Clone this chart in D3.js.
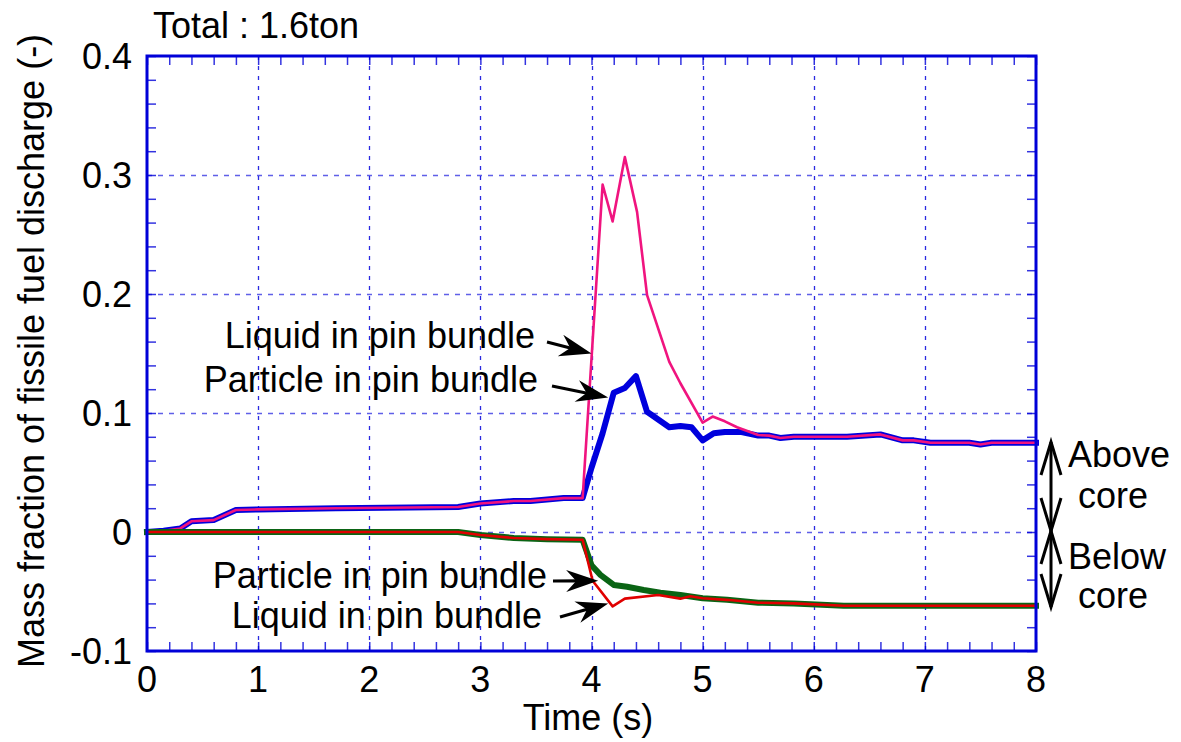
<!DOCTYPE html>
<html>
<head>
<meta charset="utf-8">
<script src="https://cdn.jsdelivr.net/npm/d3@7"></script>
<style>
  body { margin: 0; background: #fff; }
  text { font-family: "Liberation Sans", Arial, sans-serif; fill: #000; }
</style>
</head>
<body>
<svg id="chart" width="1181" height="742"></svg>
<script>
// Fissile fuel discharge above / below the core (fraction of 1.6 ton)
const xTickValues = [0, 1, 2, 3, 4, 5, 6, 7, 8];
const xTickLabels = ["0", "1", "2", "3", "4", "5", "6", "7", "8"];
const yTickValues = [-0.1, 0, 0.1, 0.2, 0.3, 0.4];
const yTickLabels = ["-0.1", "0", "0.1", "0.2", "0.3", "0.4"];

// Above core - particle in pin bundle
const aboveParticleTime = [0, 0.15, 0.3, 0.4, 0.6, 0.8, 1.0, 1.7, 2.8, 3.0, 3.3, 3.45, 3.75, 3.92, 4.0, 4.1, 4.2, 4.3, 4.4, 4.5, 4.7, 4.8, 4.9, 5.0, 5.1, 5.2, 5.35, 5.5, 5.6, 5.7, 5.82, 6.3, 6.6, 6.8, 6.9, 7.05, 7.4, 7.5, 7.6, 8.0];
const aboveParticleValue = [0, 0.001, 0.003, 0.009, 0.010, 0.0185, 0.019, 0.020, 0.021, 0.024, 0.026, 0.026, 0.0285, 0.0285, 0.054, 0.083, 0.117, 0.121, 0.131, 0.101, 0.088, 0.089, 0.088, 0.077, 0.083, 0.084, 0.084, 0.081, 0.081, 0.079, 0.080, 0.080, 0.082, 0.077, 0.077, 0.075, 0.075, 0.0735, 0.075, 0.075];

// Above core - liquid in pin bundle
const aboveLiquidTime = [0, 0.15, 0.3, 0.4, 0.6, 0.8, 1.0, 1.7, 2.8, 3.0, 3.3, 3.45, 3.75, 3.92, 4.1, 4.19, 4.3, 4.41, 4.5, 4.7, 4.8, 5.0, 5.09, 5.2, 5.31, 5.5, 5.6, 5.7, 5.82, 6.3, 6.6, 6.8, 6.9, 7.05, 7.4, 7.5, 7.6, 8.0];
const aboveLiquidValue = [0, 0.001, 0.003, 0.009, 0.010, 0.0185, 0.019, 0.020, 0.021, 0.024, 0.026, 0.026, 0.0285, 0.0285, 0.292, 0.261, 0.315, 0.269, 0.199, 0.143, 0.125, 0.092, 0.097, 0.093, 0.088, 0.0815, 0.081, 0.079, 0.080, 0.080, 0.082, 0.077, 0.077, 0.075, 0.075, 0.0735, 0.075, 0.075];

// Below core - particle in pin bundle (negative = downward discharge)
const belowParticleTime = [0, 2.8, 3.0, 3.3, 3.6, 3.92, 4.0, 4.08, 4.2, 4.32, 4.47, 4.62, 4.8, 5.0, 5.22, 5.5, 5.82, 6.27, 8.0];
const belowParticleValue = [0, 0, -0.0025, -0.005, -0.006, -0.0065, -0.028, -0.036, -0.0445, -0.046, -0.0487, -0.051, -0.053, -0.0557, -0.057, -0.0594, -0.060, -0.062, -0.062];

// Below core - liquid in pin bundle
const belowLiquidTime = [0, 2.8, 3.0, 3.3, 3.6, 3.92, 4.01, 4.19, 4.3, 4.6, 4.8, 4.89, 5.0, 5.22, 5.5, 5.82, 6.27, 8.0];
const belowLiquidValue = [0, 0, -0.0025, -0.005, -0.006, -0.0065, -0.041, -0.0625, -0.056, -0.053, -0.056, -0.054, -0.0557, -0.057, -0.0594, -0.060, -0.062, -0.062];

const svg = d3.select("#chart");
const FONT = 36;
const margin = { left: 147, right: 1036, top: 56, bottom: 651 };

const x = d3.scaleLinear().domain([0, 8]).range([margin.left, margin.right]);
const y = d3.scaleLinear().domain([-0.1, 0.4]).range([margin.bottom, margin.top]);

const frameColor = "#0000d8";
const gridColor = "#2a2ae0";

// grid
const grid = svg.append("g");
grid.selectAll("line.vg").data(xTickValues.slice(1, -1)).join("line")
  .attr("x1", d => Math.round(x(d)) + 0.5).attr("x2", d => Math.round(x(d)) + 0.5)
  .attr("y1", margin.top).attr("y2", margin.bottom)
  .attr("stroke", gridColor).attr("stroke-width", 1.3).attr("stroke-dasharray", "4,6");
grid.selectAll("line.hg").data(yTickValues.slice(1, -1)).join("line")
  .attr("y1", d => Math.round(y(d)) + 0.5).attr("y2", d => Math.round(y(d)) + 0.5)
  .attr("x1", margin.left).attr("x2", margin.right)
  .attr("stroke", gridColor).attr("stroke-opacity", 0.75).attr("stroke-width", 1.3).attr("stroke-dasharray", "5,6");

// minor + major ticks on all four sides, pointing inward
const tickLen = 9;
const xMinor = d3.range(0, 8.001, 0.2);
const yMinor = d3.range(-0.1, 0.4001, 0.02);
const bottomAxis = d3.axisBottom(x).tickValues(xMinor).tickSize(-tickLen).tickFormat("");
const topAxis = d3.axisTop(x).tickValues(xMinor).tickSize(-tickLen).tickFormat("");
const leftAxis = d3.axisLeft(y).tickValues(yMinor).tickSize(-tickLen).tickFormat("");
const rightAxis = d3.axisRight(y).tickValues(yMinor).tickSize(-tickLen).tickFormat("");
function styleAxis(g) {
  g.select(".domain").remove();
  g.selectAll(".tick line").attr("stroke", frameColor).attr("stroke-width", 1.5).attr("stroke-opacity", 0.8);
}
svg.append("g").attr("transform", `translate(0,${margin.bottom})`).call(bottomAxis).call(styleAxis);
svg.append("g").attr("transform", `translate(0,${margin.top})`).call(topAxis).call(styleAxis);
svg.append("g").attr("transform", `translate(${margin.left},0)`).call(leftAxis).call(styleAxis);
svg.append("g").attr("transform", `translate(${margin.right},0)`).call(rightAxis).call(styleAxis);

// series lines
const line = d3.line().x(d => x(d[0])).y(d => y(d[1]));
function zip(ts, vs) { return ts.map((t, i) => [t, vs[i]]); }
const series = [
  { t: aboveParticleTime, v: aboveParticleValue, color: "#0000dd", width: 6 },
  { t: aboveLiquidTime, v: aboveLiquidValue, color: "#f0147f", width: 2.6 },
  { t: belowParticleTime, v: belowParticleValue, color: "#0a6414", width: 6 },
  { t: belowLiquidTime, v: belowLiquidValue, color: "#e00000", width: 2.6 }
];
svg.append("g").selectAll("path").data(series).join("path")
  .attr("d", s => line(zip(s.t, s.v)))
  .attr("fill", "none")
  .attr("stroke", s => s.color)
  .attr("stroke-width", s => s.width)
  .attr("stroke-linejoin", "round")
  .attr("stroke-linecap", "square");

// frame
svg.append("rect")
  .attr("x", margin.left).attr("y", margin.top)
  .attr("width", margin.right - margin.left).attr("height", margin.bottom - margin.top)
  .attr("fill", "none").attr("stroke", frameColor).attr("stroke-width", 3);

// tick labels
svg.append("g").selectAll("text").data(xTickValues).join("text")
  .attr("x", d => x(d)).attr("y", 692)
  .attr("text-anchor", "middle").attr("font-size", FONT)
  .text((d, i) => xTickLabels[i]);
svg.append("g").selectAll("text").data(yTickValues).join("text")
  .attr("x", 132).attr("y", d => y(d) + 13)
  .attr("text-anchor", "end").attr("font-size", FONT)
  .text((d, i) => yTickLabels[i]);

// axis titles
svg.append("text").attr("x", 588).attr("y", 730)
  .attr("text-anchor", "middle").attr("font-size", FONT).text("Time (s)");
svg.append("text").attr("transform", "translate(44,351) rotate(-90)")
  .attr("text-anchor", "middle").attr("font-size", FONT)
  .text("Mass fraction of fissile fuel discharge (-)");
svg.append("text").attr("x", 153).attr("y", 38)
  .attr("font-size", FONT).text("Total : 1.6ton");

// curve labels with arrows pointing at the curves
const curveLabels = [
  { text: "Liquid in pin bundle", tipT: 4.0, tipV: 0.150, textEnd: 535, textY: 348, tailX: 547, tailY: 342 },
  { text: "Particle in pin bundle", tipT: 4.15, tipV: 0.113, textEnd: 538, textY: 392, tailX: 552, tailY: 386 },
  { text: "Particle in pin bundle", tipT: 4.06, tipV: -0.041, textEnd: 547, textY: 588, tailX: 553, tailY: 581 },
  { text: "Liquid in pin bundle", tipT: 4.15, tipV: -0.060, textEnd: 542, textY: 628, tailX: 560, tailY: 617 }
];
const lab = svg.append("g");
lab.selectAll("text").data(curveLabels).join("text")
  .attr("x", d => d.textEnd).attr("y", d => d.textY)
  .attr("text-anchor", "end").attr("font-size", FONT).text(d => d.text);

function arrowPath(x0, y0, x1, y1) {
  const dx = x1 - x0, dy = y1 - y0, L = Math.hypot(dx, dy);
  const ux = dx / L, uy = dy / L, px = -uy, py = ux;
  const head = 32, half = 11, notch = 22;
  const bx = x1 - ux * head, by = y1 - uy * head;
  const nx = x1 - ux * notch, ny = y1 - uy * notch;
  return `M${x1},${y1} L${bx + px * half},${by + py * half} L${nx},${ny} L${bx - px * half},${by - py * half} Z`;
}
curveLabels.forEach(d => {
  const tx = x(d.tipT), ty = y(d.tipV);
  const L = Math.hypot(tx - d.tailX, ty - d.tailY);
  const ex = tx - (tx - d.tailX) / L * 20, ey = ty - (ty - d.tailY) / L * 20;
  lab.append("line").attr("x1", d.tailX).attr("y1", d.tailY).attr("x2", ex).attr("y2", ey)
    .attr("stroke", "#000").attr("stroke-width", 3.2);
  lab.append("path").attr("d", arrowPath(d.tailX, d.tailY, tx, ty)).attr("fill", "#000");
});

// above / below core indicator on the right
const side = svg.append("g").attr("stroke", "#000").attr("stroke-width", 3).attr("fill", "none");
const ax = 1051, yTop = 442, yMid = 531, yBot = 607, wing = 10, wLen = 33;
side.append("line").attr("x1", ax).attr("x2", ax).attr("y1", yTop).attr("y2", yBot);
function vHead(tipY, dir) {
  side.append("path").attr("d", `M${ax - wing},${tipY + dir * wLen} L${ax},${tipY} L${ax + wing},${tipY + dir * wLen}`);
}
vHead(yTop, 1); vHead(yMid, -1); vHead(yMid, 1); vHead(yBot, -1);
const sideText = [
  { t: "Above", x: 1068, y: 467 },
  { t: "core", x: 1078, y: 508 },
  { t: "Below", x: 1068, y: 569 },
  { t: "core", x: 1078, y: 608 }
];
svg.append("g").selectAll("text").data(sideText).join("text")
  .attr("x", d => d.x).attr("y", d => d.y).attr("font-size", FONT).text(d => d.t);
</script>
</body>
</html>
